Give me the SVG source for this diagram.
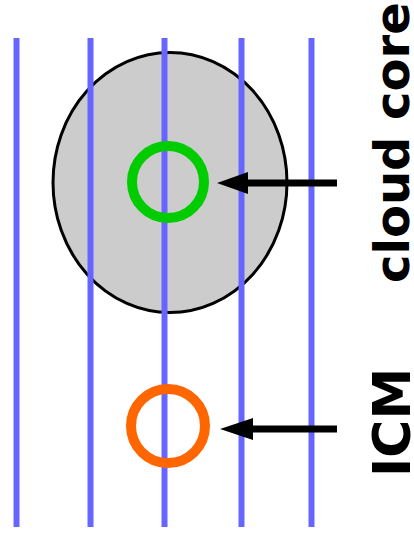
<svg xmlns="http://www.w3.org/2000/svg" width="414" height="549" viewBox="0 0 414 549">
<defs>
<style>
.field{stroke:#6666ff;stroke-width:6;fill:none}
.arrow{stroke:#000;stroke-width:7;fill:none}
.head{fill:#000}
.lbl{font-family:"DejaVu Sans",sans-serif;font-weight:bold;font-size:48px;fill:#000}
</style>
</defs>
<g id="cloud"><ellipse cx="170" cy="182.5" rx="117" ry="130" fill="#cccccc" stroke="#000" stroke-width="3"/></g>
<g id="field-lines">
<line class="field" x1="16.5" y1="38" x2="16.5" y2="527"/>
<line class="field" x1="90.5" y1="38" x2="90.5" y2="527"/>
<line class="field" x1="164.5" y1="38" x2="164.5" y2="527"/>
<line class="field" x1="241.5" y1="38" x2="241.5" y2="527"/>
<line class="field" x1="311.5" y1="38" x2="311.5" y2="527"/>
</g>
<g id="core-circle"><circle cx="168" cy="182" r="36" fill="none" stroke="#00cc00" stroke-width="10"/></g>
<g id="icm-circle"><circle cx="168" cy="426" r="37" fill="none" stroke="#ff6600" stroke-width="10"/></g>
<g id="connectors">
<line class="arrow" x1="337" y1="183" x2="246" y2="183"/>
<polygon class="head" points="217,183 248,172 248,194"/>
<line class="arrow" x1="337" y1="429" x2="250" y2="429"/>
<polygon class="head" points="220,429 253,418 253,440"/>
</g>
<g id="label-core"><text class="lbl" transform="translate(409,283) rotate(-90)">cloud core</text></g>
<g id="label-icm"><text class="lbl" style="font-size:52px" transform="translate(410,477) rotate(-90)">ICM</text></g>
</svg>
